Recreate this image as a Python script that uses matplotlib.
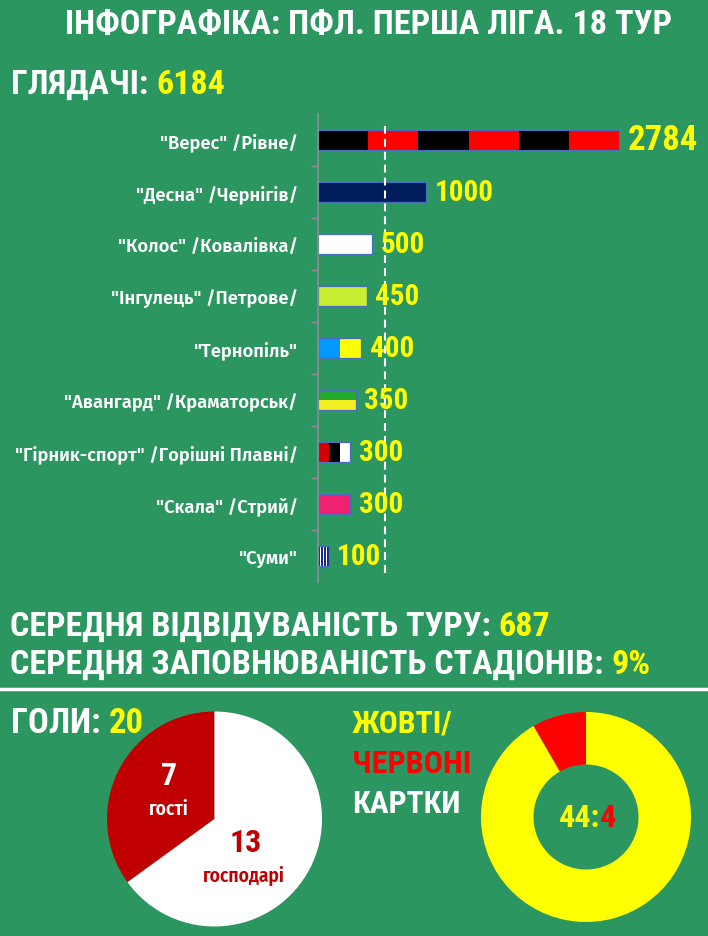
import matplotlib
matplotlib.use("Agg")
import matplotlib.pyplot as plt
from matplotlib.text import Annotation
import numpy as np

# ---------------- data ----------------
teams = ['"Верес" /Рівне/', '"Десна" /Чернігів/', '"Колос" /Ковалівка/',
         '"Інгулець" /Петрове/', '"Тернопіль"', '"Авангард" /Краматорськ/',
         '"Гірник-спорт" /Горішні Плавні/', '"Скала" /Стрий/', '"Суми"']
attendance = [2784, 1000, 500, 450, 400, 350, 300, 300, 100]
total_attendance = 6184
avg_attendance = 687
avg_fill = "9%"
avg_line_value = 619
goals_labels = ["гості", "господарі"]
goals_values = [7, 13]
goals_total = 20
cards_values = [4, 44]   # red, yellow

# team flag stripes: (orientation, colors)
flags = [
    ("v", ["#000000", "#FF0000"] * 3),
    ("v", ["#001E5C"]),
    ("v", ["#FFFFFF"]),
    ("v", ["#C8EE32"]),
    ("v", ["#0099FF", "#FFFF00"]),
    ("h", ["#22AA2E", "#F5EE22"]),
    ("v", ["#D40000", "#000000", "#FFFFFF"]),
    ("v", ["#EE2270"]),
    ("v", ["#1A2A8A", "#FFFFFF"] * 3 + ["#1A2A8A"]),
]

BG = "#2C9660"
YEL = "#FFFF00"
RED = "#FF0000"
W, H = 708, 937
HF = ["Roboto Condensed", "DejaVu Sans"]
LF = ["Fira Sans", "Fira Sans Condensed", "DejaVu Sans"]

plt.rcParams["font.family"] = HF

fig = plt.figure(figsize=(W / 100, H / 100), dpi=100, facecolor=BG)
renderer = fig.canvas.get_renderer()


def px_axes(x0, y0, w, h):
    return fig.add_axes([x0 / W, 1 - (y0 + h) / H, w / W, h / H])


def fit_size(s, target_w, max_size, family=HF, weight="bold"):
    t = fig.text(0, 0, s, fontsize=max_size, family=family, fontweight=weight)
    w = t.get_window_extent(renderer).width
    t.remove()
    return min(max_size, max_size * target_w / w)


def heading(x, y_base, parts, target_w, max_size, ha="left"):
    full = "".join(p for p, _ in parts)
    size = fit_size(full, target_w, max_size)
    if ha == "center":
        x = x - target_w / 2
    prev = fig.text(x / W, 1 - y_base / H, parts[0][0], color=parts[0][1],
                    fontsize=size, fontweight="bold", ha="left", va="baseline")
    for s, c in parts[1:]:
        a = Annotation(s, xy=(1, 0), xycoords=prev, xytext=(0, 0),
                       textcoords="offset points", color=c, fontsize=size,
                       fontweight="bold", ha="left", va="bottom",
                       annotation_clip=False)
        fig.add_artist(a)
        prev = a
    return prev

# ---------------- headings ----------------
heading(369, 34, [("ІНФОГРАФІКА: ПФЛ. ПЕРША ЛІГА. 18 ТУР", "white")], 608, 30, ha="center")
heading(11, 94, [("ГЛЯДАЧІ: ", "white"), (str(total_attendance), YEL)], 214, 30)
heading(10, 636, [("СЕРЕДНЯ ВІДВІДУВАНІСТЬ ТУРУ: ", "white"), (str(avg_attendance), YEL)], 541, 30)
heading(10, 674, [("СЕРЕДНЯ ЗАПОВНЮВАНІСТЬ СТАДІОНІВ: ", "white"), (avg_fill, YEL)], 639, 30)
heading(11, 733, [("ГОЛИ: ", "white"), (str(goals_total), YEL)], 133, 30)
heading(352, 733, [("ЖОВТІ/", YEL)], 101, 30)
heading(352, 773, [("ЧЕРВОНІ", RED)], 119, 30)
heading(352, 813, [("КАРТКИ", "white")], 108, 30)

# separator
fig.add_artist(plt.Line2D([0, 1], [1 - 690 / H, 1 - 690 / H], color="white", lw=2.5,
                          transform=fig.transFigure))

# ---------------- bar chart ----------------
ax = px_axes(318, 115, 390, 468)
ax.set_facecolor("none")
n = len(teams)
y = np.arange(n)
bar_h = 0.385
for i, (val, (orient, cols)) in enumerate(zip(attendance, flags)):
    k = len(cols)
    if orient == "v":
        for j, c in enumerate(cols):
            ax.barh(i, val / k, left=val * j / k, height=bar_h, color=c, linewidth=0)
    else:
        for j, c in enumerate(cols):
            ax.barh(i - bar_h / 2 + bar_h * (j + 0.5) / k, val, height=bar_h / k,
                    color=c, linewidth=0)
    ax.barh(i, val, height=bar_h, facecolor="none", edgecolor="#4A6EBF", linewidth=0.9)
    ax.annotate(str(val), xy=(val, i), xytext=(6, 0), textcoords="offset points",
                color=YEL, fontsize=25 if i == 0 else 21, fontweight="bold",
                va="center", ha="left", annotation_clip=False)

ax.axvline(avg_line_value, ymin=0.02, ymax=0.985, color="white", lw=1.5,
           ls=(0, (3.8, 2.4)))
ax.set_xlim(0, 3603)
ax.set_ylim(n - 0.5, -0.5)
ax.set_yticks(y)
lab_size = fit_size(max(teams, key=len), 283, 14, family=LF, weight="semibold")
ax.set_yticklabels(teams, color="white", fontsize=lab_size, fontweight="semibold",
                   family=LF)
ax.tick_params(axis="y", which="major", length=0, pad=14.5)
ax.set_yticks(np.arange(n - 1) + 0.5, minor=True)
ax.tick_params(axis="y", which="minor", length=5, color="#8C8C9C", width=1)
ax.set_xticks([])
for s in ["top", "right", "bottom"]:
    ax.spines[s].set_visible(False)
ax.spines["left"].set_color("#8C8C9C")
ax.spines["left"].set_linewidth(1.2)

# ---------------- goals pie ----------------
pax = px_axes(107, 712.5, 215, 215)
pax.pie(goals_values, colors=["#C00000", "#FFFFFF"], startangle=90, counterclock=True,
        wedgeprops=dict(linewidth=0))
pax.set_xlim(-1, 1)
pax.set_ylim(-1, 1)
pax.text(-0.42, 0.41, str(goals_values[0]), color="white", fontsize=23, fontweight="bold",
         ha="center", va="center")
pax.text(-0.43, 0.10, goals_labels[0], color="white", fontsize=14, fontweight="semibold",
         family=["Fira Sans Condensed", "DejaVu Sans"], ha="center", va="center")
pax.text(0.29, -0.21, str(goals_values[1]), color="#C00000", fontsize=23, fontweight="bold",
         ha="center", va="center")
pax.text(0.27, -0.52, goals_labels[1], color="#C00000", fontsize=14, fontweight="semibold",
         family=["Fira Sans Condensed", "DejaVu Sans"], ha="center", va="center")

# ---------------- cards donut ----------------
dax = px_axes(481, 713, 210, 210)
dax.pie(cards_values, colors=[RED, YEL], startangle=90, counterclock=True,
        wedgeprops=dict(width=0.5, linewidth=0))
dax.set_xlim(-1, 1)
dax.set_ylim(-1, 1)
dax.text(0.13, 0.0, f"{cards_values[1]}:", color=YEL, fontsize=23, fontweight="bold",
         ha="right", va="center")
dax.text(0.13, 0.0, f"{cards_values[0]}", color=RED, fontsize=23, fontweight="bold",
         ha="left", va="center")

fig.savefig("out.png", dpi=100, facecolor=BG)
